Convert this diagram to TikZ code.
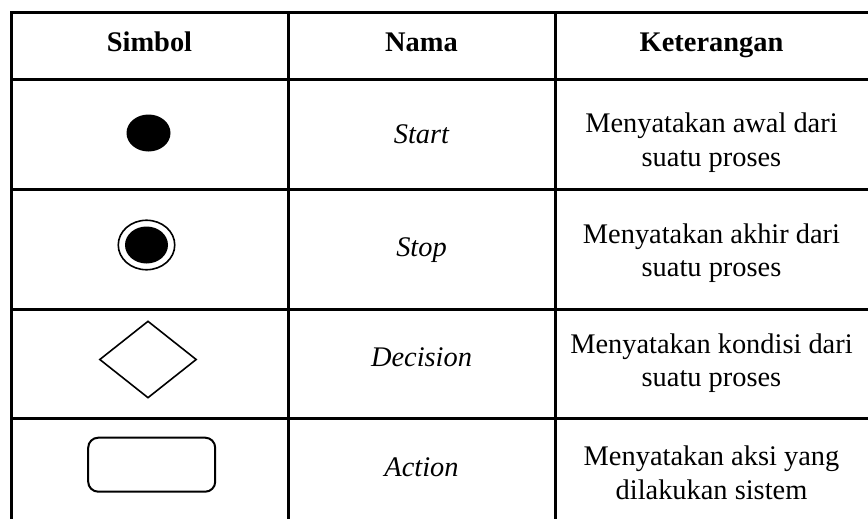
\documentclass[tikz,border=0pt]{standalone}
\usepackage{fontspec}
\setmainfont{Liberation Serif}
\usetikzlibrary{shapes.geometric}
\begin{document}
\begin{tikzpicture}[x=1pt,y=-1pt,
  tabrule/.style={line width=3pt,line cap=rect},
  tcell/.style={inner sep=0pt,anchor=base,font=\fontsize{28.4}{33.5}\selectfont},
  thead/.style={tcell,font=\fontsize{28.4}{33.5}\selectfont\bfseries},
  tname/.style={tcell,font=\fontsize{28.4}{33.5}\selectfont\itshape},
  tdesc/.style={tcell,align=center},
  tdot/.style={ellipse,fill=black,inner sep=0pt},
  toutline/.style={draw=black,line width=1.6pt,inner sep=0pt}]
\useasboundingbox (0,0) rectangle (868,519);
\begin{scope}
\clip (0,0) rectangle (868,519);
% horizontal rules
\foreach \y in {13,80,189,309,418}
  \draw[tabrule] (11,\y) -- (880,\y);
% vertical rules
\foreach \x in {11,288,555}
  \draw[tabrule] (\x,13) -- (\x,530);
\end{scope}

% header row
\node[thead] (hSimbol) at (149.5,52) {Simbol};
\node[thead] (hNama) at (421.5,52) {Nama};
\node[thead] (hKet) at (711.5,52) {Keterangan};

% symbols
\node[tdot,minimum width=44pt,minimum height=37pt] (start) at (148.5,133) {};
\node[ellipse,toutline,minimum width=56.5pt,minimum height=49.5pt] (stopring) at (146.5,245) {};
\node[tdot,minimum width=43pt,minimum height=37pt] (stopdot) at (stopring.center) {};
\node[diamond,toutline,minimum width=97pt,minimum height=77pt] (decision) at (148,359.5) {};
\node[rectangle,rounded corners=10pt,toutline,line width=2pt,minimum width=127pt,minimum height=54pt] (action) at (151.7,464.7) {};

% names
\node[tname] (nStart) at (421.5,143) {Start};
\node[tname] (nStop) at (421.5,256) {Stop};
\node[tname] (nDecision) at (421.5,366.7) {Decision};
\node[tname] (nAction) at (421.5,476.7) {Action};

% descriptions (anchored on the baseline of their second line)
\node[tdesc] (dStart) at (711.5,166.3) {Menyatakan awal dari\\suatu proses};
\node[tdesc] (dStop) at (711.5,276.7) {Menyatakan akhir dari\\suatu proses};
\node[tdesc] (dDecision) at (711.5,386.7) {Menyatakan kondisi dari\\suatu proses};
\node[tdesc] (dAction) at (711.5,499) {Menyatakan aksi yang\\dilakukan sistem};
\end{tikzpicture}
\end{document}
